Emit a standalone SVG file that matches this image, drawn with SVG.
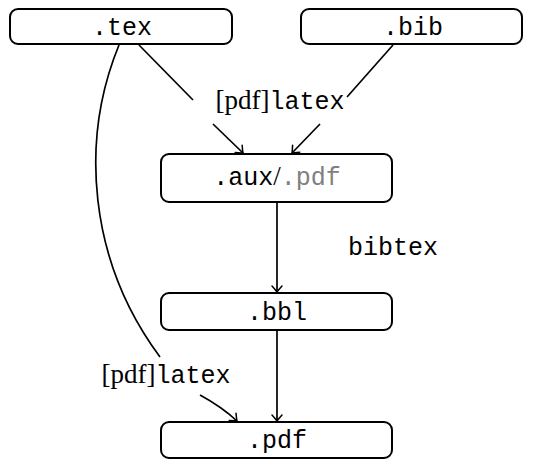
<svg xmlns="http://www.w3.org/2000/svg" width="542" height="465" viewBox="0 0 542 465">
<style>
.box{fill:#fff;stroke:#000;stroke-width:2}
.t{font-family:"Liberation Mono",monospace;font-size:25px;fill:#000;text-anchor:middle}
.rm{font-family:"Liberation Serif",serif;font-size:27px}
.gray{fill:#808080}
.e{fill:none;stroke:#000;stroke-width:1.7}
</style>
<defs>
<marker id="ah" markerUnits="userSpaceOnUse" markerWidth="14" markerHeight="14" refX="0" refY="0" viewBox="-8 -7 10 14" orient="auto" overflow="visible">
<path d="M-6,-5 Q-1.5,-1 0,0 Q-1.5,1 -6,5" fill="none" stroke="#000" stroke-width="1.5" stroke-linecap="round"/>
</marker>
</defs>
<g id="edges">
<path class="e" d="M139,45 L193,100"/>
<path class="e" d="M213,124 L243,153" marker-end="url(#ah)"/>
<path class="e" d="M393,45 L347,97"/>
<path class="e" d="M320,124 L292,153" marker-end="url(#ah)"/>
<path class="e" d="M277,203 L277,292" marker-end="url(#ah)"/>
<path class="e" d="M277,331 L277,421" marker-end="url(#ah)"/>
<path class="e" d="M119,45 C80,140 88,260 160,357"/>
<path class="e" d="M200,395 Q222,407 237,421" marker-end="url(#ah)"/>
<text class="t" x="280" y="109"><tspan class="rm">[pdf]</tspan>latex</text>
<text class="t" x="393" y="255">bibtex</text>
<text class="t" x="166" y="383"><tspan class="rm">[pdf]</tspan>latex</text>
</g>
<g id="tex"><rect class="box" x="10" y="9" width="222" height="35" rx="8"/><text class="t" x="122" y="35">.tex</text></g>
<g id="bib"><rect class="box" x="301" y="9" width="221" height="35" rx="8"/><text class="t" x="413" y="35">.bib</text></g>
<g id="aux"><rect class="box" x="161" y="154" width="231" height="48" rx="8"/><text class="t" x="277" y="185">.aux<tspan class="rm">/</tspan><tspan class="gray">.pdf</tspan></text></g>
<g id="bbl"><rect class="box" x="161" y="293" width="231" height="37" rx="8"/><text class="t" x="277" y="320">.bbl</text></g>
<g id="pdf"><rect class="box" x="161" y="422" width="231" height="36" rx="8"/><text class="t" x="277" y="448">.pdf</text></g>
</svg>
